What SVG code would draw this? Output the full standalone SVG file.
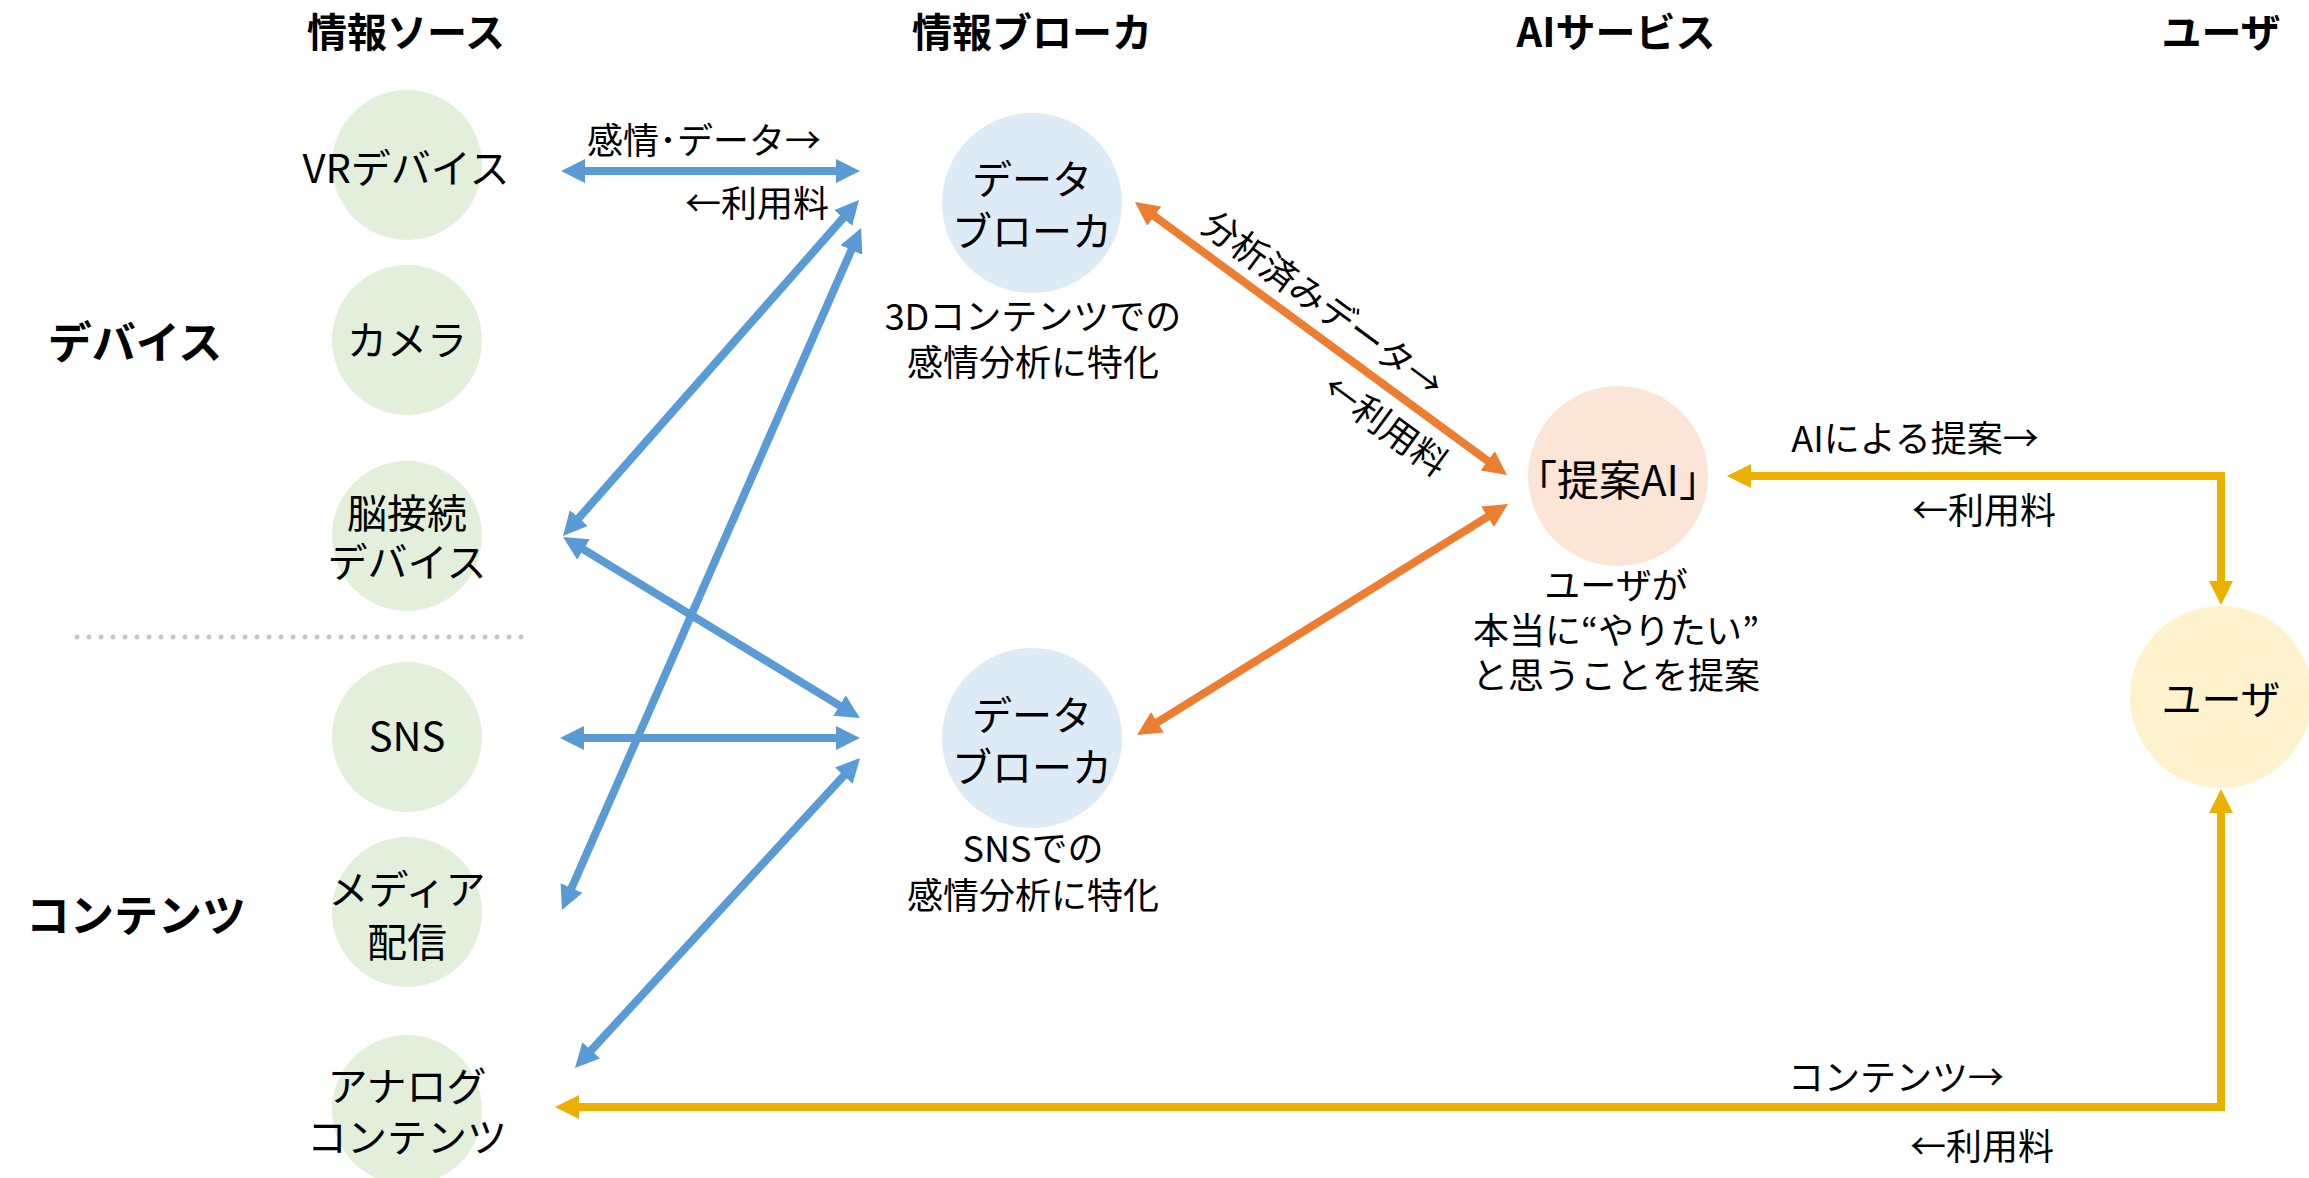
<svg xmlns="http://www.w3.org/2000/svg" width="2309" height="1178" viewBox="0 0 2309 1178">
<style>
text{font-family:"Noto Sans CJK JP","Noto Sans",sans-serif;fill:#000;text-anchor:middle}
.h{font-size:40px;font-weight:bold}
.side{font-size:44px;font-weight:bold}
.n{font-size:40px}
.s{font-size:36px}
.e{font-size:36px}
.src{fill:#E2EFDA}
.brk{fill:#DDEBF7}
.ai{fill:#FBE5D6}
.usr{fill:#FFF2CC}
.cb{fill:none;stroke:#5B9BD5;stroke-width:8;marker-start:url(#ab);marker-end:url(#ab)}
.co{fill:none;stroke:#ED7D31;stroke-width:8;marker-start:url(#ao);marker-end:url(#ao)}
.cy{fill:none;stroke:#EBB000;stroke-width:8;stroke-linejoin:miter;marker-start:url(#ay);marker-end:url(#ay)}
</style>
<defs>
<marker id="ab" viewBox="0 0 24 24" markerUnits="userSpaceOnUse" markerWidth="24" markerHeight="24" refX="4" refY="12" orient="auto-start-reverse"><path d="M0,0 L24,12 L0,24 z" fill="#5B9BD5"/></marker>
<marker id="ao" viewBox="0 0 24 24" markerUnits="userSpaceOnUse" markerWidth="24" markerHeight="24" refX="4" refY="12" orient="auto-start-reverse"><path d="M0,0 L24,12 L0,24 z" fill="#ED7D31"/></marker>
<marker id="ay" viewBox="0 0 24 24" markerUnits="userSpaceOnUse" markerWidth="24" markerHeight="24" refX="4" refY="12" orient="auto-start-reverse"><path d="M0,0 L24,12 L0,24 z" fill="#EBB000"/></marker>
</defs>
<rect width="2309" height="1178" fill="#fff"/>

<g id="headers">
<text class="h" x="406" y="47">情報ソース</text>
<text class="h" x="1032" y="47">情報ブローカ</text>
<text class="h" x="1616" y="47">AIサービス</text>
<text class="h" x="2221" y="47">ユーザ</text>
</g>

<g id="side-labels">
<text class="side" x="135" y="359">デバイス</text>
<text class="side" x="136" y="932">コンテンツ</text>
</g>

<line id="divider" x1="77" y1="637" x2="522" y2="637" stroke="#C8C8C8" stroke-width="5" stroke-linecap="round" stroke-dasharray="0 12"/>

<g id="connectors">
<path class="cb" d="M581,171 L840,171"/>
<path class="cb" d="M845.8,215 L576.2,521"/>
<path class="cb" d="M853,246.3 L570,891.7"/>
<path class="cb" d="M580.1,547.4 L842.9,707.6"/>
<path class="cb" d="M580,738 L840,738"/>
<path class="cb" d="M846.5,772.7 L588.5,1053.3"/>
<path class="co" d="M1151.1,213.8 L1490.9,463.2"/>
<path class="co" d="M1491,514.6 L1154,724.4"/>
<path class="cy" d="M2221,585 L2221,476 L1747,476"/>
<path class="cy" d="M2221,809 L2221,1107 L575,1107"/>
<g id="edge-labels">
<text class="e" x="704" y="154">感情･データ→</text>
<text class="e" x="757" y="217">←利用料</text>
<text class="e" transform="translate(1322,305) rotate(36.3)" x="0" y="12">分析済みデータ→</text>
<text class="e" transform="translate(1385,426) rotate(36.3)" x="0" y="12">←利用料</text>
<text class="e" x="1915" y="452">AIによる提案→</text>
<text class="e" x="1984" y="524">←利用料</text>
<text class="e" x="1896" y="1091">コンテンツ→</text>
<text class="e" x="1982" y="1160">←利用料</text>
</g>
</g>

<g id="vr"><circle class="src" cx="407" cy="165" r="75"/><text class="n" x="406" y="183">VRデバイス</text></g>
<g id="camera"><circle class="src" cx="407" cy="340" r="75"/><text class="n" x="407" y="355">カメラ</text></g>
<g id="brain"><circle class="src" cx="407" cy="536" r="75"/><text class="n" x="407" y="528">脳接続</text><text class="n" x="407" y="577">デバイス</text></g>
<g id="sns"><circle class="src" cx="407" cy="737" r="75"/><text class="n" x="407" y="751">SNS</text></g>
<g id="media"><circle class="src" cx="407" cy="912" r="75"/><text class="n" x="407" y="904">メディア</text><text class="n" x="407" y="957">配信</text></g>
<g id="analog"><circle class="src" cx="407" cy="1110" r="75"/><text class="n" x="407" y="1101">アナログ</text><text class="n" x="407" y="1152">コンテンツ</text></g>

<g id="broker1"><circle class="brk" cx="1032" cy="203" r="90"/><text class="n" x="1032" y="194">データ</text><text class="n" x="1032" y="246">ブローカ</text>
<text class="s" x="1033" y="330">3Dコンテンツでの</text><text class="s" x="1033" y="376">感情分析に特化</text></g>
<g id="broker2"><circle class="brk" cx="1032" cy="738" r="90"/><text class="n" x="1032" y="730">データ</text><text class="n" x="1032" y="782">ブローカ</text>
<text class="s" x="1033" y="862">SNSでの</text><text class="s" x="1033" y="909">感情分析に特化</text></g>

<g id="ai"><circle class="ai" cx="1618" cy="476" r="90"/><text class="n" x="1618" y="496" style="font-size:42px">「提案AI」</text>
<text class="s" x="1616" y="599">ユーザが</text><text class="s" x="1616" y="644">本当に“やりたい”</text><text class="s" x="1616" y="689">と思うことを提案</text></g>

<g id="user"><circle class="usr" cx="2221" cy="697" r="91"/><text class="n" x="2221" y="714">ユーザ</text></g>
</svg>
